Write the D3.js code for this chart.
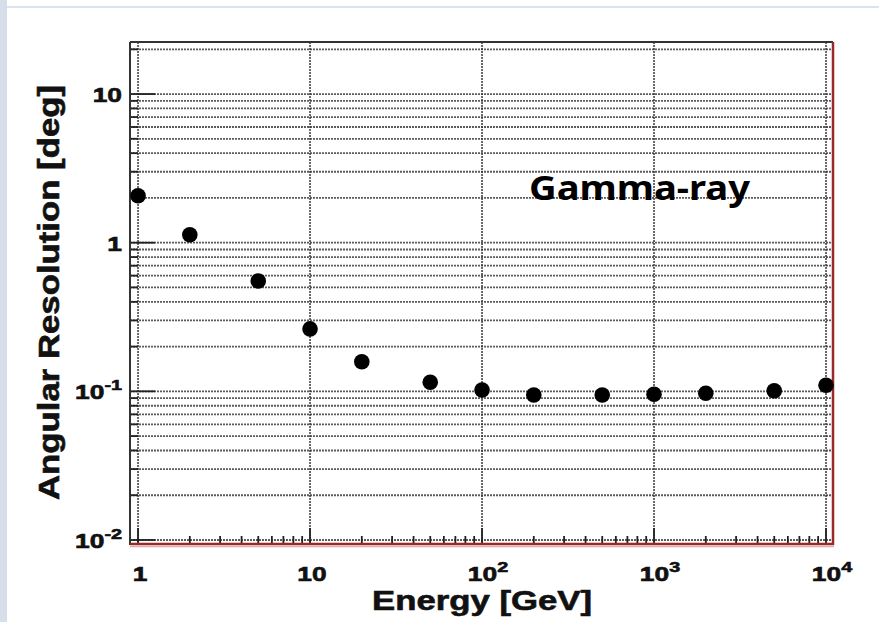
<!DOCTYPE html>
<html lang="en">
<head>
<meta charset="utf-8">
<title>Angular Resolution</title>
<script src="https://d3js.org/d3.v7.min.js"></script>
<style>
  body { margin: 0; background: #fff; }
  svg { display: block; }
</style>
</head>
<body>
<script>
  // data
  var energy = [1, 2, 5, 10, 20, 50, 100, 200, 500, 1000, 2000, 5000, 10000];
  var resolution = [2.07, 1.13, 0.552, 0.263, 0.158, 0.115, 0.102, 0.0945, 0.0945, 0.0955, 0.097, 0.101, 0.110];
  var xTickValues = [1, 10, 100, 1000, 10000];
  var xTickLabels = ["1", "10", "10|2", "10|3", "10|4"];
  var yTickValues = [0.01, 0.1, 1, 10];
  var yTickLabels = ["10|-2", "10|-1", "1", "10"];

  var width = 879,
      height = 622;

  var svg = d3.select("body").append("svg")
      .attr("width", width)
      .attr("height", height);

  // slide background bits
  svg.append("rect").attr("x", 0).attr("y", 0).attr("width", 7).attr("height", height).attr("fill", "#d6dfe9");
  svg.append("line").attr("x1", 7).attr("x2", width).attr("y1", 7).attr("y2", 7)
      .attr("stroke", "#dbe3ee").attr("stroke-width", 2);

  var x = d3.scaleLog().domain([0.898, 10980]).range([130, 833]);
  var y = d3.scaleLog().domain([Math.pow(10, -2.027), Math.pow(10, 1.35)]).range([544, 42]);

  // all decade sub ticks
  var yMinor = [];
  [0.01, 0.1, 1, 10].forEach(function(d) {
    for (var k = 1; k < 10; k++) {
      var v = d * k;
      if (v >= y.domain()[0] && v <= y.domain()[1]) yMinor.push(v);
    }
  });
  var xMinor = [];
  [1, 10, 100, 1000].forEach(function(d) {
    for (var k = 1; k < 10; k++) xMinor.push(d * k);
  });
  xMinor.push(10000);

  var grid = svg.append("g").attr("class", "grid");

  grid.selectAll("line.h")
    .data(yMinor)
    .enter().append("line")
      .attr("class", "h")
      .attr("x1", 130).attr("x2", 833)
      .attr("y1", function(d) { return y(d); })
      .attr("y2", function(d) { return y(d); })
      .attr("stroke", "#333")
      .attr("stroke-width", 1.8)
      .attr("stroke-dasharray", "2,1")
      .attr("opacity", 0.8);

  grid.selectAll("line.v")
    .data(xTickValues)
    .enter().append("line")
      .attr("class", "v")
      .attr("y1", 42).attr("y2", 544)
      .attr("x1", function(d) { return x(d); })
      .attr("x2", function(d) { return x(d); })
      .attr("stroke", "#333")
      .attr("stroke-width", 1.8)
      .attr("stroke-dasharray", "2,1")
      .attr("opacity", 0.8);

  // ticks on left axis (inside)
  var yTicks = svg.append("g");
  yTicks.selectAll("line")
    .data(yMinor)
    .enter().append("line")
      .attr("x1", 130)
      .attr("x2", function(d) { return yTickValues.indexOf(d) >= 0 ? 155 : 138; })
      .attr("y1", function(d) { return y(d); })
      .attr("y2", function(d) { return y(d); })
      .attr("stroke", "#222")
      .attr("stroke-width", 1.8);

  // ticks on bottom axis (inside)
  var xTicks = svg.append("g");
  xTicks.selectAll("line")
    .data(xMinor)
    .enter().append("line")
      .attr("y1", 544)
      .attr("y2", function(d) { return xTickValues.indexOf(d) >= 0 ? 528 : 536; })
      .attr("x1", function(d) { return x(d); })
      .attr("x2", function(d) { return x(d); })
      .attr("stroke", "#222")
      .attr("stroke-width", 1.8);

  // frame
  svg.append("line").attr("x1", 130).attr("x2", 833).attr("y1", 42).attr("y2", 42)
      .attr("stroke", "#333").attr("stroke-width", 2);
  svg.append("line").attr("x1", 130).attr("x2", 130).attr("y1", 42).attr("y2", 545)
      .attr("stroke", "#333").attr("stroke-width", 2);
  svg.append("line").attr("x1", 130).attr("x2", 834).attr("y1", 544).attr("y2", 544)
      .attr("stroke", "#9a2a2a").attr("stroke-width", 2.5);
  svg.append("line").attr("x1", 130).attr("x2", 834).attr("y1", 546.5).attr("y2", 546.5)
      .attr("stroke", "#e4aaaa").attr("stroke-width", 1.5);
  svg.append("line").attr("x1", 833).attr("x2", 833).attr("y1", 42).attr("y2", 545)
      .attr("stroke", "#9a2a2a").attr("stroke-width", 2.5);

  // tick labels with superscript exponents
  function label(sel, txt) {
    var parts = txt.split("|");
    sel.append("tspan").text(parts[0]);
    if (parts.length > 1) {
      sel.append("tspan").attr("dy", -9).attr("font-size", 15).text(parts[1]);
    }
  }

  var font = "Liberation Sans, Arial, sans-serif";

  svg.append("g").selectAll("text")
    .data(xTickValues)
    .enter().append("text")
      .attr("transform", function(d, i) {
        return "translate(" + (x(d) + (i > 1 ? 6 : 2)) + ",581) scale(1.32,1)";
      })
      .attr("text-anchor", "middle")
      .attr("font-family", font)
      .attr("font-weight", "bold")
      .attr("font-size", 20)
      .attr("fill", "#111")
      .attr("stroke", "#111")
      .attr("stroke-width", 0.6)
      .each(function(d, i) { label(d3.select(this), xTickLabels[i]); });

  svg.append("g").selectAll("text")
    .data(yTickValues)
    .enter().append("text")
      .attr("transform", function(d) {
        return "translate(122," + (y(d) + 8) + ") scale(1.32,1)";
      })
      .attr("text-anchor", "end")
      .attr("font-family", font)
      .attr("font-weight", "bold")
      .attr("font-size", 20)
      .attr("fill", "#111")
      .attr("stroke", "#111")
      .attr("stroke-width", 0.6)
      .each(function(d, i) { label(d3.select(this), yTickLabels[i]); });

  // axis titles
  svg.append("text")
      .attr("x", 372).attr("y", 610)
      .attr("textLength", 220)
      .attr("lengthAdjust", "spacingAndGlyphs")
      .attr("font-family", font)
      .attr("font-weight", "bold")
      .attr("font-size", 27)
      .attr("fill", "#111")
      .attr("stroke", "#111")
      .attr("stroke-width", 0.6)
      .text("Energy [GeV]");

  svg.append("text")
      .attr("transform", "translate(59,500) rotate(-90)")
      .attr("textLength", 415)
      .attr("lengthAdjust", "spacingAndGlyphs")
      .attr("font-family", font)
      .attr("font-weight", "bold")
      .attr("font-size", 29)
      .attr("fill", "#111")
      .attr("stroke", "#111")
      .attr("stroke-width", 0.6)
      .text("Angular Resolution [deg]");

  // points
  svg.append("g").selectAll("circle")
    .data(energy)
    .enter().append("circle")
      .attr("cx", function(d) { return x(d); })
      .attr("cy", function(d, i) { return y(resolution[i]); })
      .attr("r", 7.8)
      .attr("fill", "#000");

  svg.append("text")
      .attr("x", 529).attr("y", 200)
      .attr("textLength", 221)
      .attr("lengthAdjust", "spacingAndGlyphs")
      .attr("font-family", "Noto Sans, sans-serif")
      .attr("font-weight", "bold")
      .attr("font-size", 34)
      .attr("fill", "#000")
      .text("Gamma-ray");
</script>
</body>
</html>
